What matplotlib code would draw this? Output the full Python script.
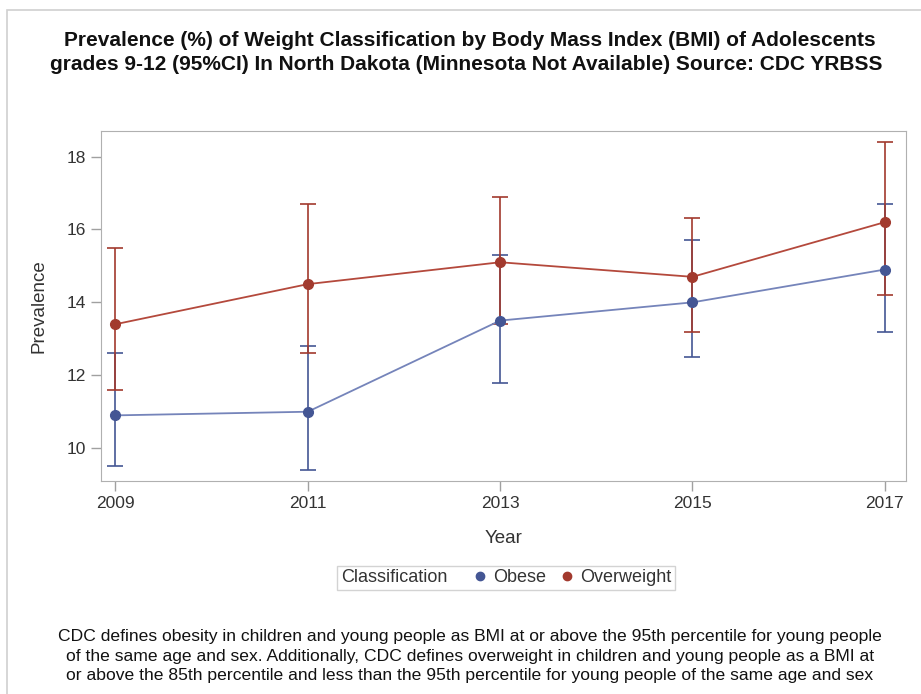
import matplotlib
matplotlib.use("Agg")
import matplotlib.pyplot as plt
from matplotlib.patches import Rectangle
from matplotlib.lines import Line2D
from matplotlib.offsetbox import HPacker

plt.rcParams['font.family'] = ['Liberation Sans', 'DejaVu Sans']

years = [2009, 2011, 2013, 2015, 2017]
obese = [10.9, 11.0, 13.5, 14.0, 14.9]
obese_lo = [9.5, 9.4, 11.8, 12.5, 13.2]
obese_hi = [12.6, 12.8, 15.3, 15.7, 16.7]
over = [13.4, 14.5, 15.1, 14.7, 16.2]
over_lo = [11.6, 12.6, 13.4, 13.2, 14.2]
over_hi = [15.5, 16.7, 16.9, 16.3, 18.4]
yticks = [10, 12, 14, 16, 18]

W, H = 921, 694
fig = plt.figure(figsize=(W/100, H/100), dpi=100)
ax = fig.add_axes([101/W, 1-481/H, (906-101)/W, (481-131)/H])

blue_m, blue_l = '#445694', '#7584BA'
red_m, red_l = '#A23A2E', '#B4493C'

def draw(vals, lo, hi, cm, cl):
    yerr = [[v - l for v, l in zip(vals, lo)], [h - v for v, h in zip(vals, hi)]]
    ax.errorbar(years, vals, yerr=yerr, fmt='none', ecolor=cm, elinewidth=1.2,
                capsize=6, capthick=1.2, zorder=2)
    ax.plot(years, vals, color=cl, lw=1.3, zorder=3)
    ax.plot(years, vals, 'o', color=cm, ms=7, zorder=4)

draw(obese, obese_lo, obese_hi, blue_m, blue_l)
draw(over, over_lo, over_hi, red_m, red_l)

ax.set_xlim(2008.85, 2017.22)
ax.set_ylim(9.1, 18.7)
ax.set_xticks(years)
ax.set_yticks(yticks)
ax.tick_params(colors='#a0a0a0', labelcolor='#333333', labelsize=12.5, length=7, width=1)
for s in ax.spines.values():
    s.set_color('#b0b0b0')
ax.set_xlabel('Year', fontsize=13.5, color='#333333', labelpad=14)
ax.set_ylabel('Prevalence', fontsize=13.5, color='#333333', labelpad=14)

fig.text(470/W, 1-41/H, 'Prevalence (%) of Weight Classification by Body Mass Index (BMI) of Adolescents',
         ha='center', va='center', fontsize=15, fontweight='bold', color='#111111')
fig.text(466/W, 1-65/H, 'grades 9-12 (95%CI) In North Dakota (Minnesota Not Available) Source: CDC YRBSS',
         ha='center', va='center', fontsize=15, fontweight='bold', color='#111111')

handles = [Line2D([], [], ls='none', marker='o', color=blue_m, ms=6, label='Obese'),
           Line2D([], [], ls='none', marker='o', color=red_m, ms=6, label='Overweight')]
leg = fig.legend(handles=handles, loc='center', bbox_to_anchor=(506/W, 1-578/H), ncol=2,
                 title='Classification', fontsize=13, title_fontsize=13, frameon=True,
                 fancybox=False, edgecolor='#c8c8c8', handletextpad=0.1, columnspacing=0.6,
                 borderpad=0.2, handlelength=1.2)
title_box = leg._legend_title_box
handle_box = leg._legend_handle_box
leg._legend_box._children = [HPacker(pad=0, sep=16, children=[title_box, handle_box], align='center')]
for t in leg.get_texts():
    t.set_color('#333333')
leg.get_title().set_color('#333333')

footer = ("CDC defines obesity in children and young people as BMI at or above the 95th percentile for young people\n"
          "of the same age and sex. Additionally, CDC defines overweight in children and young people as a BMI at\n"
          "or above the 85th percentile and less than the 95th percentile for young people of the same age and sex")
fig.text(470/W, 1-656/H, footer, ha='center', va='center', fontsize=12.6, color='#111111',
         linespacing=1.34)

fig.patches.append(Rectangle((7/W, -0.1), 1.2, 1 - 10/H + 0.1, transform=fig.transFigure,
                             fill=False, edgecolor='#d0d0d0', lw=1.2))

fig.savefig('out.png', dpi=100)
